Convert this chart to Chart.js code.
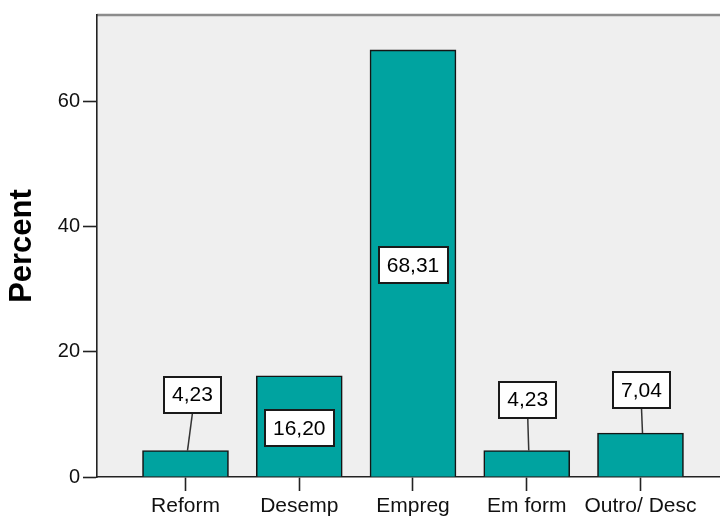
<!DOCTYPE html>
<html>
<head>
<meta charset="utf-8">
<script src="https://cdn.jsdelivr.net/npm/chart.js@4/dist/chart.umd.min.js"></script>
<style>
  html, body { margin: 0; padding: 0; background: #fff; overflow: hidden; }
  #wrap { width: 720px; height: 517px; position: relative; }
</style>
</head>
<body>
<div id="wrap"><canvas id="chart"></canvas></div>
<script>
const categories = ['Reform', 'Desemp', 'Empreg', 'Em form', 'Outro/ Desc'];
const percents = [4.23, 16.20, 68.31, 4.23, 7.04];
const yTicks = [0, 20, 40, 60];

// how far the callout boxes sit above the short bars, and a sideways nudge
const calloutLift = [38, 32, 32, 33, 25];
const calloutShift = [7, 0, 0, 1, 1];

const FONT = "'Liberation Sans', Arial, sans-serif";
const barColor = '#00a3a0';
const plotBg = '#efefef';

const points = percents.map((p, i) => ({ x: i, y: p }));

const plotBackground = {
  id: 'plotBackground',
  beforeDraw(chart) {
    const { ctx, chartArea: a } = chart;
    ctx.save();
    ctx.fillStyle = plotBg;
    ctx.fillRect(a.left, a.top, a.right - a.left, a.bottom - a.top);
    ctx.strokeStyle = '#8c8c8c';
    ctx.lineWidth = 2.5;
    ctx.beginPath();
    ctx.moveTo(a.left, a.top);
    ctx.lineTo(a.right, a.top);
    ctx.stroke();
    ctx.restore();
  }
};

const valueBoxes = {
  id: 'valueBoxes',
  afterDatasetsDraw(chart) {
    const { ctx } = chart;
    const meta = chart.getDatasetMeta(0);
    ctx.save();
    ctx.font = '21px ' + FONT;
    ctx.textAlign = 'center';
    ctx.textBaseline = 'middle';
    meta.data.forEach((bar, i) => {
      const text = percents[i].toFixed(2).replace('.', ',');
      const w = ctx.measureText(text).width + 16;
      const h = 36;
      const barH = bar.base - bar.y;
      let cx = bar.x, cy;
      if (barH > h + 10) {
        cy = (bar.y + bar.base) / 2 + 2;
      } else {
        cx = bar.x + calloutShift[i];
        cy = bar.y - calloutLift[i] - h / 2;
        ctx.strokeStyle = '#333';
        ctx.lineWidth = 1.5;
        ctx.beginPath();
        ctx.moveTo(cx, cy + h / 2);
        ctx.lineTo(bar.x + 2, bar.y);
        ctx.stroke();
      }
      ctx.fillStyle = '#fff';
      ctx.fillRect(cx - w / 2, cy - h / 2, w, h);
      ctx.strokeStyle = '#1a1a1a';
      ctx.lineWidth = 2;
      ctx.strokeRect(Math.round(cx - w / 2), Math.round(cy - h / 2), Math.round(w), h);
      ctx.fillStyle = '#000';
      ctx.fillText(text, cx, cy + 1);
    });
    ctx.restore();
  }
};

new Chart(document.getElementById('chart'), {
  type: 'bar',
  data: {
    datasets: [{
      data: points,
      backgroundColor: barColor,
      borderColor: '#151515',
      borderWidth: 1.6,
      barThickness: 86
    }]
  },
  options: {
    responsive: true,
    maintainAspectRatio: false,
    animation: false,
    layout: { padding: { top: 15, right: 0, bottom: 0, left: 0 } },
    plugins: {
      legend: { display: false },
      tooltip: { enabled: false }
    },
    scales: {
      x: {
        type: 'linear',
        offset: false,
        min: -0.778,
        max: 4.699,
        border: { display: true, color: '#222', width: 1.6 },
        grid: { offset: false, drawOnChartArea: false, drawTicks: true, tickLength: 14, tickColor: '#222', tickWidth: 1.6 },
        ticks: {
          stepSize: 1,
          includeBounds: false,
          autoSkip: false,
          maxRotation: 0,
          padding: 3,
          color: '#111',
          font: { family: FONT, size: 21 },
          callback: v => categories[v] ?? ''
        },
        afterFit: s => { s.height = 40; }
      },
      y: {
        min: 0,
        max: 73.9,
        border: { display: true, color: '#222', width: 1.6 },
        grid: { drawOnChartArea: false, drawTicks: true, tickLength: 14, tickColor: '#222', tickWidth: 1.6 },
        ticks: {
          stepSize: 20,
          includeBounds: false,
          padding: 3,
          color: '#111',
          font: { family: FONT, size: 20 },
          callback: v => yTicks.includes(v) ? String(v) : ''
        },
        title: {
          display: true,
          text: 'Percent',
          color: '#000',
          font: { family: FONT, size: 31, weight: 'bold', lineHeight: 1 },
          padding: { top: 7, bottom: 0 }
        },
        afterFit: s => { s.width = 97; }
      }
    }
  },
  plugins: [plotBackground, valueBoxes]
});
</script>
</body>
</html>
